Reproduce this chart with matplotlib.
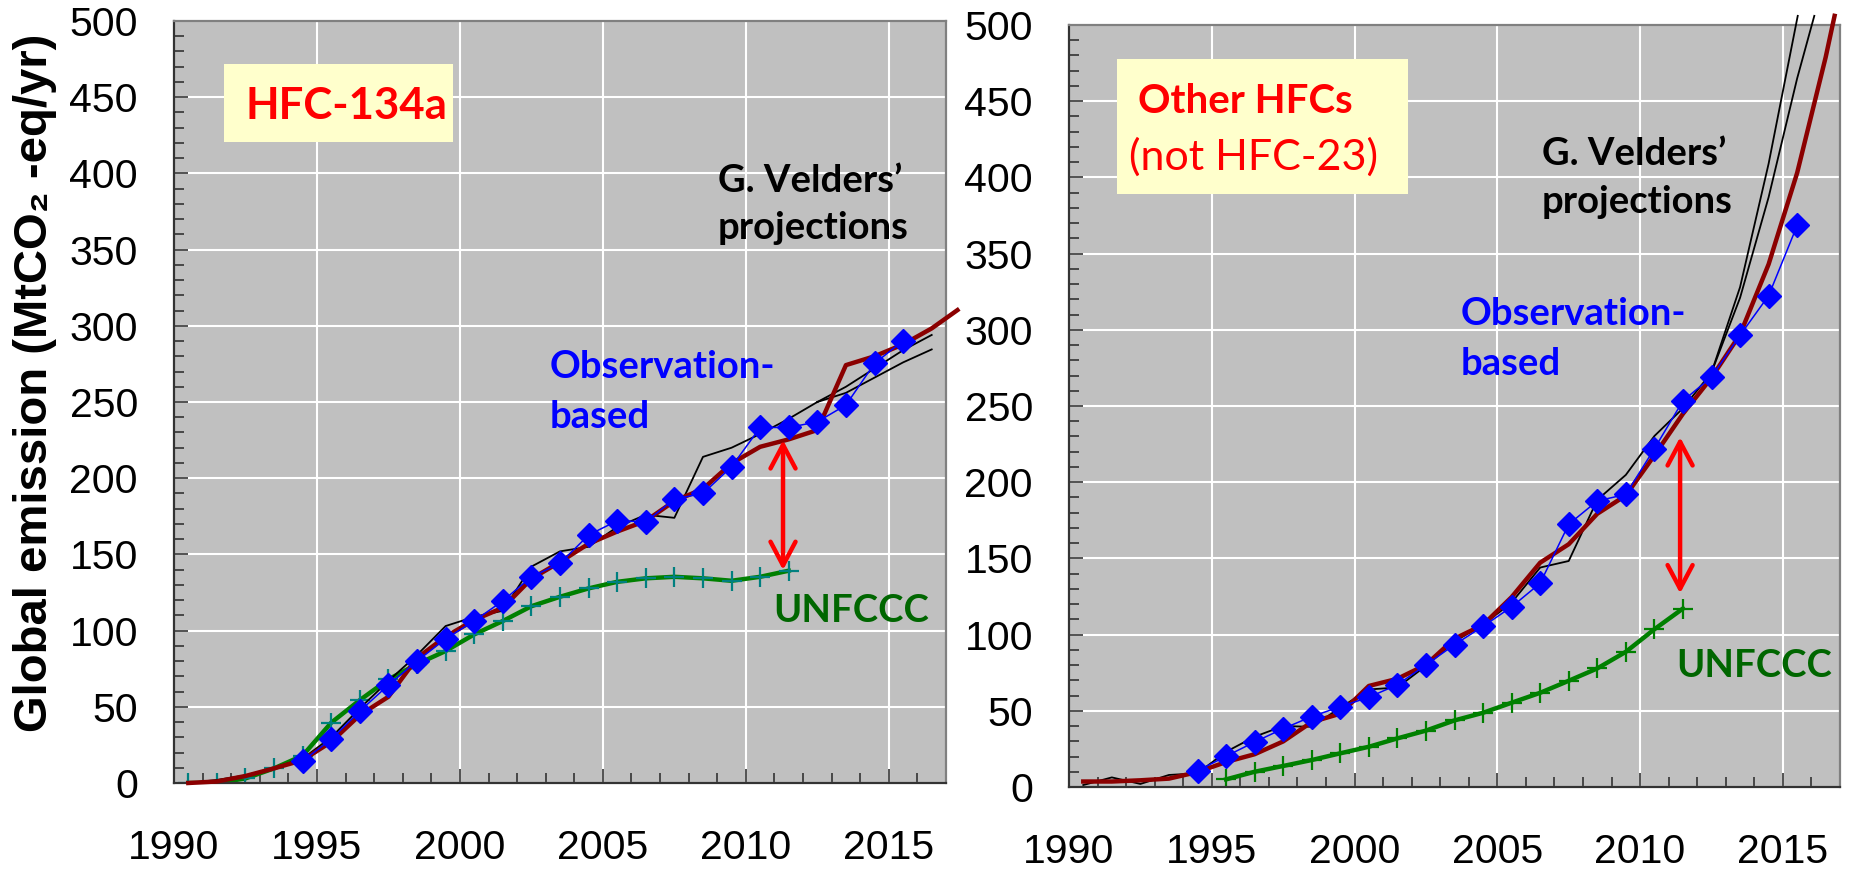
import matplotlib
matplotlib.use('Agg')
import matplotlib.pyplot as plt
from matplotlib.ticker import MultipleLocator
from matplotlib.patches import Rectangle

# ---------------- data ----------------
# HFC-134a (left panel)
obs_years = [1994.5, 1995.5, 1996.5, 1997.5, 1998.5, 1999.5, 2000.5, 2001.5, 2002.5, 2003.5, 2004.5,
             2005.5, 2006.5, 2007.5, 2008.5, 2009.5, 2010.5, 2011.5, 2012.5, 2013.5, 2014.5, 2015.5]
obs_134a = [14.4, 28.7, 47.2, 64.3, 80.0, 94.6, 106.4, 119.5, 135.3, 144.1, 162.7,
            172.1, 171.4, 186.3, 190.0, 207.5, 233.3, 233.3, 237.0, 248.0, 275.3, 290.2]

model_years_134a = [1990.5, 1991.5, 1992.5, 1993.5, 1994.5, 1995.5, 1996.5, 1997.5, 1998.5, 1999.5,
                    2000.5, 2001.5, 2002.5, 2003.5, 2004.5, 2005.5, 2006.5, 2007.5, 2008.5, 2009.5,
                    2010.5, 2011.5, 2012.5, 2013.5, 2014.5, 2015.5, 2016.5, 2017.4]
model_134a = [0, 1, 4.6, 9.6, 15, 27, 44.6, 56.6, 82, 96, 107, 115, 134, 145, 157, 165, 172, 185, 193,
              209.7, 220.6, 225.5, 231.6, 274.2, 280, 287.8, 298.3, 310.3]

velders_years = [1990.5, 1991.5, 1992.5, 1993.5, 1994.5, 1995.5, 1996.5, 1997.5, 1998.5, 1999.5,
                 2000.5, 2001.5, 2002.5, 2003.5, 2004.5, 2005.5, 2006.5, 2007.5, 2008.5, 2009.5,
                 2010.5, 2011.5, 2012.5]
velders_134a = [0, 2, 5, 10, 16, 30, 49, 67, 84, 103, 109, 113, 142, 152, 155, 168, 176, 174, 214, 220,
                229, 239, 250]
branch_years_134a = [2012.5, 2013.5, 2014.5, 2015.5, 2016.5]
velders_134a_hi = [250, 260, 272, 284, 294]
velders_134a_lo = [250, 256, 266, 276, 284.5]

unfccc_years_134a = [1990.5, 1991.5, 1992.5, 1993.5, 1994.5, 1995.5, 1996.5, 1997.5, 1998.5, 1999.5,
                     2000.5, 2001.5, 2002.5, 2003.5, 2004.5, 2005.5, 2006.5, 2007.5, 2008.5, 2009.5,
                     2010.5, 2011.5]
unfccc_134a = [0, 0, 3, 9.6, 18, 39.6, 54.4, 68, 78, 86.6, 97.5, 106.3, 116, 122.2, 127.7, 132, 134.3,
               135.3, 134.3, 132.7, 135.3, 139.3]
gap_134a = (2011.3, 225.0, 139.7)   # year, top, bottom of the red double arrow

# Other HFCs (right panel)
obs_oth = [10.6, 20.2, 29.5, 38.3, 46.2, 52.7, 58.9, 67.1, 80.1, 93.4, 105.4,
           118.2, 133.7, 172.4, 187.7, 192.0, 222.0, 253.4, 269.0, 296.4, 322.4, 368.5]

model_years_oth = [1990.5, 1991.5, 1992.5, 1993.5, 1994.5, 1995.5, 1996.5, 1997.5, 1998.5, 1999.5,
                   2000.5, 2001.5, 2002.5, 2003.5, 2004.5, 2005.5, 2006.5, 2007.5, 2008.5, 2009.5,
                   2010.5, 2011.5, 2012.5, 2013.5, 2014.5, 2015.5, 2016.5, 2016.81]
model_oth = [3.6, 3.6, 4.4, 5.5, 9.8, 16.4, 21.5, 29.9, 42.6, 48.1, 66.3, 71, 80.2, 97.3, 106.4, 124.6,
             147.2, 159.3, 179.3, 191.3, 217.6, 244.9, 268.6, 297, 343, 403, 479, 506]

velders_oth = [1.3, 6.3, 2, 7.9, 9, 23.1, 33, 40, 39.5, 52, 64, 65.3, 79.5, 95.5, 106.4, 121, 144,
               148.3, 188.4, 204.8, 230.3, 248.5, 272]
velders_oth_a_years = [2012.5, 2013.5, 2014.5, 2015.52]
velders_oth_a = [272, 328, 409, 506]
velders_oth_b_years = [2012.5, 2013.5, 2014.5, 2015.5, 2016.1]
velders_oth_b = [272, 321, 387, 465, 506]

unfccc_years_oth = [1995.5, 1996.5, 1997.5, 1998.5, 1999.5, 2000.5, 2001.5, 2002.5, 2003.5, 2004.5,
                    2005.5, 2006.5, 2007.5, 2008.5, 2009.5, 2010.5, 2011.5]
unfccc_oth = [5, 10, 13.8, 17.7, 22.1, 26.4, 31.9, 37, 43.7, 48.7, 55.3, 61.8, 69.7, 77.8, 88.7,
              103.5, 117.1]
gap_oth = (2011.4, 229.6, 127.0)

x_ticks = [1990, 1995, 2000, 2005, 2010, 2015]
y_ticks = [0, 50, 100, 150, 200, 250, 300, 350, 400, 450, 500]

# ---------------- style ----------------
TICKFONT = ['Liberation Sans', 'DejaVu Sans']
ANNFONT = ['Lato', 'Open Sans', 'DejaVu Sans']
BG = '#c0c0c0'
DARKRED = '#8b0000'
GREEN = '#008000'
TEAL = '#008080'
BLUE = '#0000ff'

fig = plt.figure(figsize=(18.51, 8.71), dpi=100)
W, H = 1851, 871


def px_axes(x0, x1, y0, y1):
    return fig.add_axes([x0 / W, 1 - y1 / H, (x1 - x0) / W, (y1 - y0) / H])


def style_axes(ax):
    ax.set_facecolor(BG)
    ax.set_xlim(1990, 2017)
    ax.set_ylim(0, 500)
    ax.set_xticks(x_ticks)
    ax.set_yticks(y_ticks)
    ax.xaxis.set_minor_locator(MultipleLocator(1))
    ax.yaxis.set_minor_locator(MultipleLocator(10))
    ax.grid(True, which='major', color='white', linewidth=1.5)
    ax.set_axisbelow(True)
    ax.tick_params(which='major', direction='in', length=10, width=1.2, color='#333333',
                   top=False, right=False)
    ax.tick_params(which='minor', direction='in', length=7, width=1.2, color='#333333',
                   top=False, right=False)
    ax.tick_params(axis='x', which='major', pad=33)
    ax.tick_params(axis='y', which='major', pad=26)
    for lab in ax.get_xticklabels() + ax.get_yticklabels():
        lab.set_fontfamily(TICKFONT)
        lab.set_fontsize(29.5)
    ax.spines['left'].set_color('#333333')
    ax.spines['bottom'].set_color('#333333')
    ax.spines['top'].set_color('#808080')
    ax.spines['right'].set_color('#808080')
    for s in ax.spines.values():
        s.set_linewidth(1.6)


def arrow(ax, gap):
    x, top, bot = gap
    ax.annotate('', xy=(x, top), xytext=(x, bot),
                arrowprops=dict(arrowstyle='<->,head_length=0.85,head_width=0.45',
                                color='#ff0000', lw=3.2, shrinkA=0, shrinkB=0,
                                mutation_scale=20), zorder=6)


def text(ax, x, y, s, color, size, bold=True):
    ax.text(x, y, s, transform=ax.transAxes, color=color, fontsize=size,
            fontweight='bold' if bold else 'normal', family=ANNFONT,
            va='baseline', ha='left', zorder=7)


# ---------------- left panel ----------------
axL = px_axes(174, 946, 21, 783)
style_axes(axL)
axL.plot(unfccc_years_134a, unfccc_134a, color=GREEN, lw=3.2, zorder=2)
axL.plot(unfccc_years_134a, unfccc_134a, ls='none', marker='+', ms=15, mew=1.6, color=TEAL, zorder=2.1)
axL.plot(velders_years, velders_134a, color='black', lw=1.3, zorder=3, clip_on=False)
axL.plot(branch_years_134a, velders_134a_hi, color='black', lw=1.3, zorder=3, clip_on=False)
axL.plot(branch_years_134a, velders_134a_lo, color='black', lw=1.3, zorder=3, clip_on=False)
axL.plot(model_years_134a, model_134a, color=DARKRED, lw=3.2, zorder=4, clip_on=False)
axL.plot(obs_years, obs_134a, color=BLUE, lw=1.1, marker='D', ms=12.5, zorder=5)
arrow(axL, gap_134a)

axL.add_patch(Rectangle((0.0648, 0.8412), 0.2966, 0.1024, transform=axL.transAxes,
                        facecolor='#ffffcc', edgecolor='none', zorder=6))
text(axL, 0.092, 0.871, 'HFC-134a', '#ff0000', 31.5)
text(axL, 0.7047, 0.7762, 'G. Velders\u2019', 'black', 27.5)
text(axL, 0.7047, 0.7143, 'projections', 'black', 27.5)
text(axL, 0.4870, 0.5320, 'Observation-', BLUE, 27.5)
text(axL, 0.4870, 0.4664, 'based', BLUE, 27.5)
text(axL, 0.7759, 0.2117, 'UNFCCC', '#006600', 27.5)

# ---------------- right panel ----------------
axR = px_axes(1069, 1840, 25, 787)
style_axes(axR)
axR.plot(unfccc_years_oth, unfccc_oth, color=GREEN, lw=3.2, zorder=2)
axR.plot(unfccc_years_oth, unfccc_oth, ls='none', marker='+', ms=15, mew=1.6, color=GREEN, zorder=2.1)
axR.plot(velders_years, velders_oth, color='black', lw=1.3, zorder=3, clip_on=False)
axR.plot(velders_oth_a_years, velders_oth_a, color='black', lw=1.3, zorder=3, clip_on=False)
axR.plot(velders_oth_b_years, velders_oth_b, color='black', lw=1.3, zorder=3, clip_on=False)
axR.plot(model_years_oth, model_oth, color=DARKRED, lw=3.2, zorder=4, clip_on=False)
axR.plot(obs_years, obs_oth, color=BLUE, lw=1.1, marker='D', ms=12.5, zorder=5)
arrow(axR, gap_oth)

axR.add_patch(Rectangle((0.0619, 0.7778), 0.3774, 0.1776, transform=axR.transAxes,
                        facecolor='#ffffcc', edgecolor='none', zorder=6))
text(axR, 0.0895, 0.8841, 'Other HFCs', '#ff0000', 29)
text(axR, 0.078, 0.8097, '(not HFC-23)', '#ff0000', 31, bold=False)
text(axR, 0.6131, 0.8163, 'G. Velders\u2019', 'black', 27.5)
text(axR, 0.6131, 0.7533, 'projections', 'black', 27.5)
text(axR, 0.5084, 0.6063, 'Observation-', BLUE, 27.5)
text(axR, 0.5084, 0.5407, 'based', BLUE, 27.5)
text(axR, 0.7882, 0.1440, 'UNFCCC', '#006600', 27.5)

fig.text(0.019, 0.561, 'Global emission (MtCO\u2082 -eq/yr)', rotation=90, fontsize=34,
         fontweight='bold', family=TICKFONT, ha='center', va='center')

fig.savefig('out.png', dpi=100, facecolor='white')
